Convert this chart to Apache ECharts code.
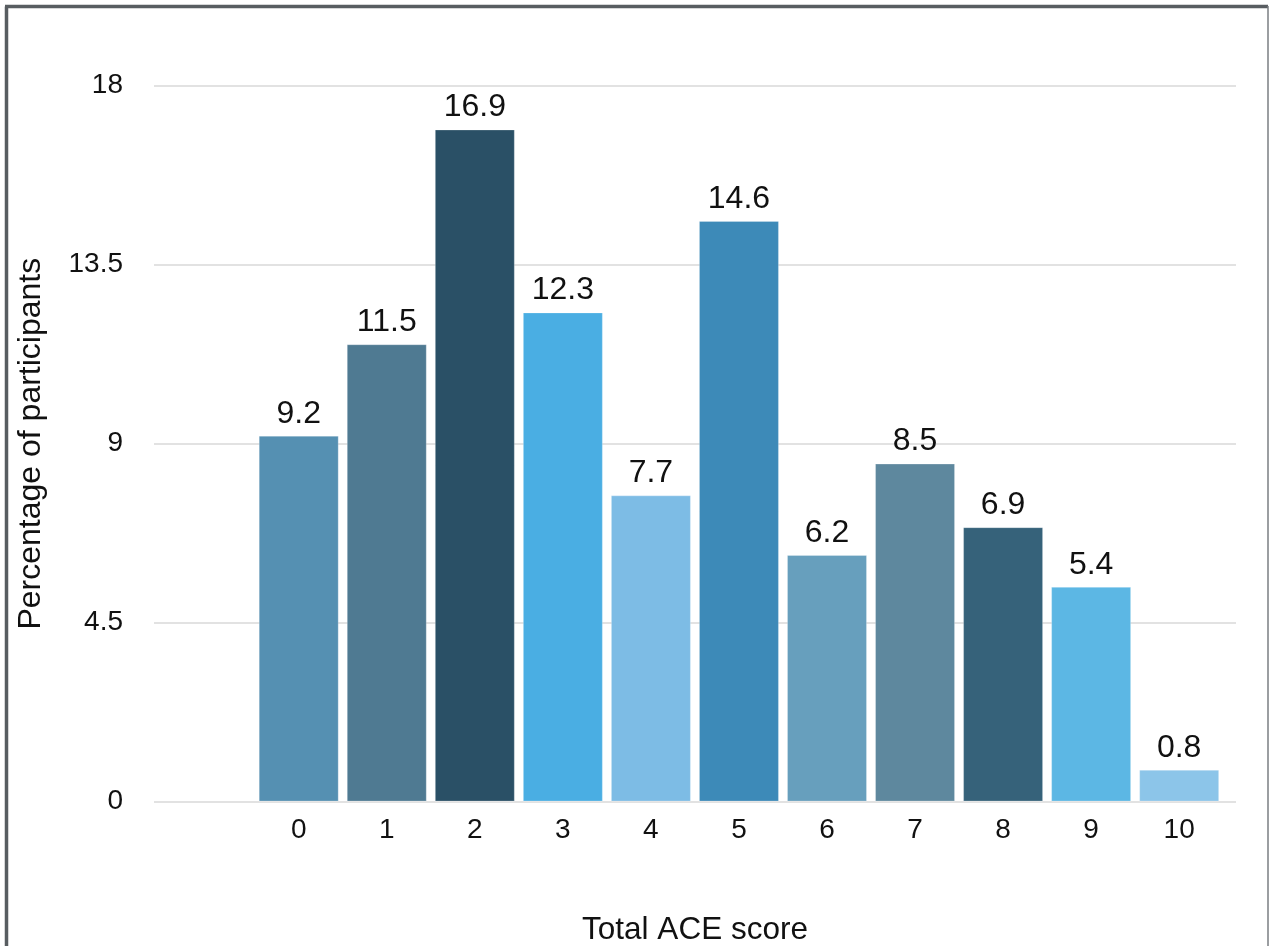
<!DOCTYPE html>
<html>
<head>
<meta charset="utf-8">
<title>Total ACE score</title>
<script src="https://cdn.jsdelivr.net/npm/echarts@6/dist/echarts.min.js"></script>
<style>
  html, body { margin: 0; padding: 0; background: #ffffff; }
  #chart { width: 1269px; height: 946px; }
</style>
</head>
<body>
<div id="chart"></div>
<script>
// ACE score categories and share of participants (%)
const categories = ['0', '1', '2', '3', '4', '5', '6', '7', '8', '9', '10'];
const percentages = [9.2, 11.5, 16.9, 12.3, 7.7, 14.6, 6.2, 8.5, 6.9, 5.4, 0.8];
const barColors = ['#5590b2', '#4f7a92', '#2a5066', '#4aaee3', '#7dbce5', '#3d8ab8',
                   '#679fbd', '#5e889e', '#36627a', '#5cb7e4', '#8cc5e9'];
const yTicks = [0, 4.5, 9, 13.5, 18];

const FONT = '"Liberation Sans", Arial, Helvetica, sans-serif';
const yMin = yTicks[0];
const yMax = yTicks[yTicks.length - 1];
const yStep = yTicks[1] - yTicks[0];

const chart = echarts.init(document.getElementById('chart'), null, { renderer: 'canvas' });

chart.setOption({
  backgroundColor: '#ffffff',
  animation: false,
  textStyle: { fontFamily: FONT },
  grid: [
    // frame for gridlines, tick labels and axis titles
    { left: 154, right: 33, top: 85.7, bottom: 144.4, outerBoundsMode: 'none', containLabel: false },
    // bar area
    { left: 254.7, right: 45.8, top: 85.7, bottom: 144.4, outerBoundsMode: 'none', containLabel: false }
  ],
  xAxis: [
    {
      gridIndex: 0, type: 'category', data: [''],
      axisLine: { show: false }, axisTick: { show: false }, axisLabel: { show: false },
      name: 'Total ACE score', nameLocation: 'middle', nameGap: 113,
      nameTextStyle: { fontSize: 31.5, color: '#111', fontFamily: FONT }
    },
    {
      gridIndex: 1, type: 'category', data: categories,
      axisLine: { show: false }, axisTick: { show: false },
      axisLabel: { fontSize: 28, color: '#111', margin: 15, fontFamily: FONT }
    }
  ],
  yAxis: [
    {
      gridIndex: 0, type: 'value', min: yMin, max: yMax, interval: yStep,
      axisLine: { show: false }, axisTick: { show: false },
      axisLabel: { fontSize: 28, color: '#111', margin: 31, align: 'right',
                   padding: [5, 0, 0, 0], fontFamily: FONT },
      splitLine: { show: true, lineStyle: { color: '#d9d9d9', width: 1.5 } },
      name: 'Percentage of participants', nameLocation: 'middle', nameGap: 107,
      nameRotate: 90,
      nameTextStyle: { fontSize: 32, color: '#111', fontFamily: FONT }
    },
    {
      gridIndex: 1, type: 'value', min: yMin, max: yMax, interval: yStep,
      show: false, splitLine: { show: false }
    }
  ],
  series: [
    {
      type: 'bar',
      xAxisIndex: 1, yAxisIndex: 1,
      barWidth: 80,
      data: percentages.map((v, i) => ({
        value: v,
        itemStyle: { color: barColors[i], borderColor: 'rgba(255,255,255,0.25)', borderWidth: 1 }
      })),
      label: {
        show: true, position: 'top', distance: 6,
        fontSize: 32, color: '#111', fontFamily: FONT,
        formatter: p => p.value.toFixed(1)
      }
    }
  ],
  graphic: [
    // outer frame: heavy left and top edges, thin right edge
    { type: 'line', shape: { x1: 6.5, y1: 946, x2: 6.5, y2: 6.5 },
      style: { stroke: '#585d61', lineWidth: 3.5 }, silent: true },
    { type: 'line', shape: { x1: 5, y1: 6.5, x2: 1268, y2: 6.5 },
      style: { stroke: '#585d61', lineWidth: 3.5 }, silent: true },
    { type: 'line', shape: { x1: 1268, y1: 6, x2: 1268, y2: 946 },
      style: { stroke: '#7a7e82', lineWidth: 1.5 }, silent: true }
  ]
});
</script>
</body>
</html>
